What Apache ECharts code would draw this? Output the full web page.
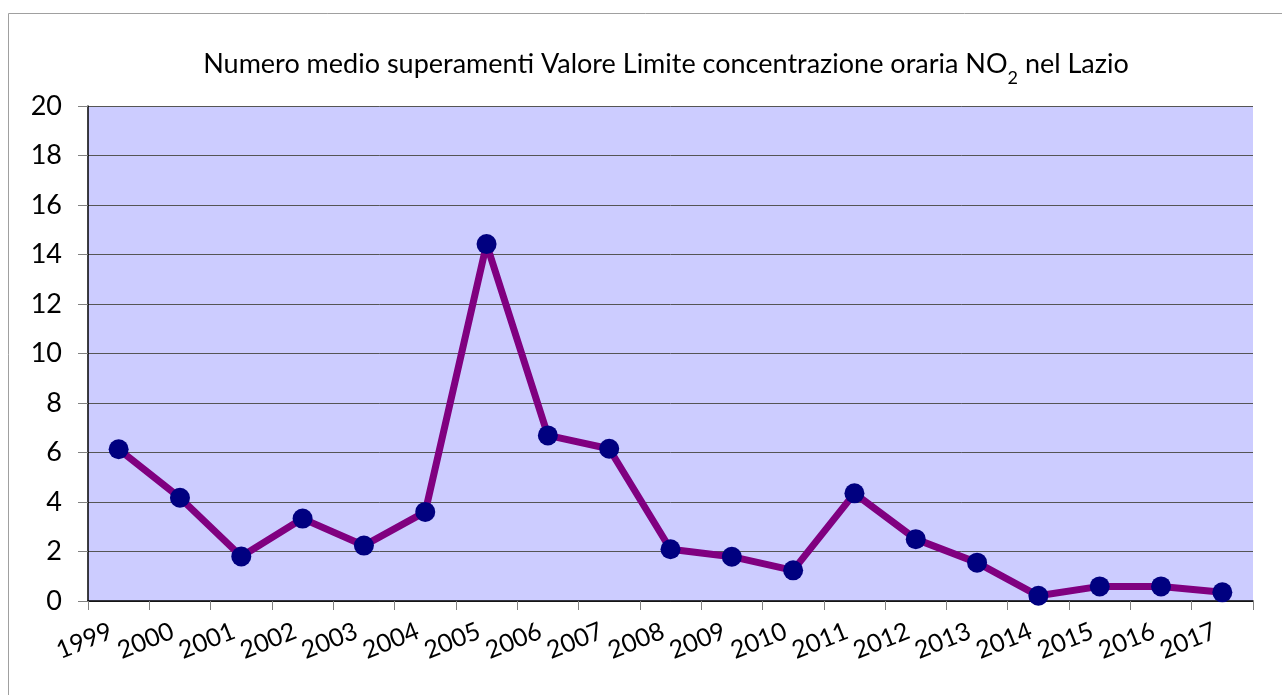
<!DOCTYPE html>
<html>
<head>
<meta charset="utf-8">
<script src="https://cdn.jsdelivr.net/npm/echarts@6/dist/echarts.min.js"></script>
<style>html,body{margin:0;padding:0;background:#fff}#c{width:1282px;height:695px}</style>
</head>
<body>
<div id="c"></div>
<script>
const years = ['1999','2000','2001','2002','2003','2004','2005','2006','2007','2008','2009','2010','2011','2012','2013','2014','2015','2016','2017'];
const values = [6.13, 4.17, 1.8, 3.33, 2.24, 3.6, 14.42, 6.69, 6.15, 2.09, 1.79, 1.24, 4.35, 2.5, 1.55, 0.21, 0.59, 0.59, 0.35];
const yTicks = [0, 2, 4, 6, 8, 10, 12, 14, 16, 18, 20];

const FONT = 'Lato';
const chart = echarts.init(document.getElementById('c'), null, {renderer: 'canvas'});
chart.setOption({
  animation: false,
  backgroundColor: '#ffffff',
  title: {
    text: '{a|Numero medio superamenti Valore Limite concentrazione oraria NO}{s|2}{a| nel Lazio}',
    left: 661,
    top: 39,
    textAlign: 'center',
    textStyle: {
      fontWeight: 'normal',
      rich: {
        a: {fontFamily: FONT, fontSize: 27, fontWeight: 'normal', color: '#000', verticalAlign: 'bottom', lineHeight: 34},
        s: {fontFamily: FONT, fontSize: 18, fontWeight: 'normal', color: '#000', verticalAlign: 'bottom', lineHeight: 24, padding: [0,0,-9,0]}
      }
    }
  },
  graphic: [{
    type: 'rect', silent: true, z: -1,
    shape: {x: 8.5, y: 13.5, width: 1300, height: 700},
    style: {fill: 'none', stroke: '#a0a0a0', lineWidth: 1}
  }],
  grid: {
    left: 88, right: 29, top: 106, bottom: 94,
    show: true, backgroundColor: '#CCCCFF', borderWidth: 0
  },
  xAxis: {
    type: 'category',
    data: years,
    boundaryGap: true,
    axisLine: {show: true, lineStyle: {color: '#000', width: 1.5}},
    axisTick: {show: true, alignWithLabel: false, length: 9, lineStyle: {color: '#808080'}},
    axisLabel: {interval: 0, rotate: 22, margin: 26, padding: [0, 8, 0, 0], fontFamily: FONT, fontSize: 25, color: '#000'},
    splitLine: {show: false}
  },
  yAxis: {
    type: 'value',
    min: 0, max: 20, interval: 2,
    axisLine: {show: true, lineStyle: {color: '#000', width: 1.5}},
    axisTick: {show: true, length: 10, lineStyle: {color: '#808080'}},
    axisLabel: {margin: 26, fontFamily: FONT, fontSize: 27, color: '#000',
      formatter: v => yTicks.includes(v) ? String(v) : ''},
    splitLine: {show: true, lineStyle: {color: '#555', width: 1}}
  },
  series: [{
    type: 'line',
    data: values,
    symbol: 'circle',
    symbolSize: 20,
    lineStyle: {color: '#800080', width: 7},
    itemStyle: {color: '#000080'},
    z: 3
  }]
});
</script>
</body>
</html>
